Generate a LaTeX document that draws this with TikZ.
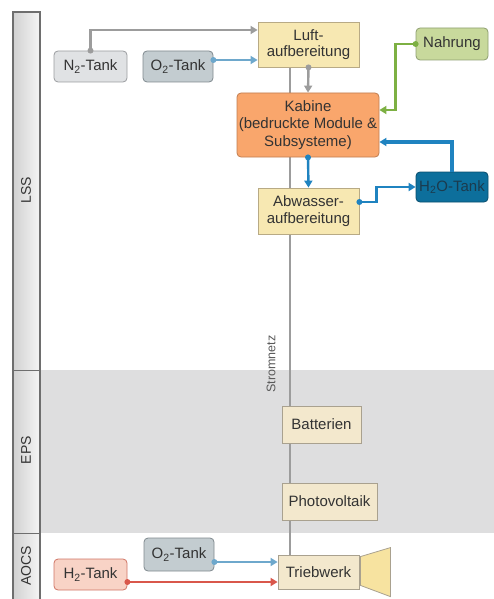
\documentclass[tikz,border=0pt]{standalone}
\usepackage{fontspec}
\setmainfont{Liberation Sans}
\usetikzlibrary{arrows.meta,backgrounds,calc}
\definecolor{txt}{HTML}{333333}
\definecolor{yelF}{HTML}{F7E8B2}
\definecolor{yelD}{HTML}{B8AA85}
\definecolor{kabF}{HTML}{F9A66C}
\definecolor{kabD}{HTML}{C07D50}
\definecolor{greF}{HTML}{C8D99C}
\definecolor{greD}{HTML}{8E9E70}
\definecolor{ntF}{HTML}{E0E2E4}
\definecolor{ntD}{HTML}{9A9C9F}
\definecolor{otF}{HTML}{C3CCD0}
\definecolor{otD}{HTML}{7F898E}
\definecolor{htF}{HTML}{F8D3C6}
\definecolor{htD}{HTML}{D07565}
\definecolor{beF}{HTML}{F3E8CD}
\definecolor{beD}{HTML}{A9A18F}
\definecolor{waF}{HTML}{0D6F9C}
\definecolor{waD}{HTML}{0A4D6C}
\definecolor{waT}{HTML}{1B3B4E}
\definecolor{band}{HTML}{DEDEDF}
\definecolor{laneD}{HTML}{6E6E6E}
\definecolor{cGray}{HTML}{9C9C9C}
\definecolor{cLBlue}{HTML}{6EA8CC}
\definecolor{cGreen}{HTML}{7DB043}
\definecolor{cBlue}{HTML}{1F83C0}
\definecolor{cRed}{HTML}{D9574B}
\definecolor{nozF}{HTML}{F7E3A0}
\tikzset{
  box/.style={draw, line width=0.8pt, align=center, text=txt, inner sep=0pt,
    font=\fontsize{15}{16.5}\selectfont},
  rbox/.style={box, rounded corners=4pt},
  conn/.style={line width=2.4pt, arrows={-Triangle[width=8pt,length=7pt]}},
  dotmark/.style={circle, fill, draw=none, inner sep=0pt, minimum size=6pt},
  lanelabel/.style={rotate=90, text=txt, font=\fontsize{14}{16}\selectfont},
}
\begin{document}
\begin{tikzpicture}[x=1pt,y=-1pt]
\useasboundingbox (0,0) rectangle (494,599);
% nodes
\node[rbox, fill=ntF, draw=ntD, minimum width=73pt, minimum height=31pt] (N2) at (90.5,66.5) {N\textsubscript{2}-Tank};
\node[rbox, fill=otF, draw=otD, minimum width=70pt, minimum height=31pt] (O2a) at (178,66.5) {O\textsubscript{2}-Tank};
\node[box, fill=yelF, draw=yelD, minimum width=101pt, minimum height=45pt] (Luft) at (308.5,44.5) {Luft-\\aufbereitung};
\node[rbox, fill=greF, draw=greD, minimum width=72pt, minimum height=32pt] (Nahrung) at (452,44) {Nahrung};
\node[rbox, fill=kabF, draw=kabD, minimum width=142pt, minimum height=64pt, font=\fontsize{15}{17.5}\selectfont] (Kabine) at (308,125) {Kabine\\(bedruckte Module \&\\Subsysteme)};
\node[rbox, fill=waF, draw=waD, text=waT, minimum width=72pt, minimum height=30pt] (H2O) at (452,187) {H\textsubscript{2}O-Tank};
\node[box, fill=yelF, draw=yelD, minimum width=101pt, minimum height=46pt] (Abw) at (308.5,211) {Abwasser-\\aufbereitung};
\node[box, fill=beF, draw=beD, minimum width=79pt, minimum height=37pt] (Batt) at (321.5,424.5) {Batterien};
\node[box, fill=beF, draw=beD, minimum width=95pt, minimum height=37pt] (Photo) at (329.5,501.5) {Photovoltaik};
\node[rbox, fill=otF, draw=otD, minimum width=70pt, minimum height=33pt] (O2b) at (179,554.5) {O\textsubscript{2}-Tank};
\node[rbox, fill=htF, draw=htD, minimum width=73pt, minimum height=31pt] (H2) at (90.5,574.5) {H\textsubscript{2}-Tank};
\node[box, fill=beF, draw=beD, minimum width=81pt, minimum height=34pt] (Trieb) at (318.5,572) {Triebwerk};
% nozzle
\draw[fill=nozF, draw=beD, line width=0.8pt]
  ($(Trieb.north east)+(1,2)$) -- ++(30,-9) -- ++(0,49) -- ($(Trieb.south east)+(1,-4)$) -- cycle;
% background: lanes, band, power line
\begin{scope}[on background layer]
  \fill[band] (40,370) rectangle (494,533);
  \draw[line width=1.3pt, draw=laneD, left color=black!18, right color=black!4]
    (13,12) rectangle (40,602);
  \draw[line width=0.9pt, draw=laneD] (13,370) -- (40,370);
  \draw[line width=0.9pt, draw=laneD] (13,533) -- (40,533);
  \coordinate (sx) at (290,0);
  \draw[cGray, line width=1.4pt] (Luft.south -| sx) -- (Trieb.north -| sx);
\end{scope}
\node[lanelabel] (LSS) at (26,190) {LSS};
\node[lanelabel] (EPS) at (26,450) {EPS};
\node[lanelabel] (AOCS) at (26,566) {AOCS};
\node[rotate=90, text=black!65, font=\fontsize{12.5}{14}\selectfont] (Strom) at (271,364) {Stromnetz};
% connectors
\draw[conn, cGray] (N2.north) node[dotmark]{} |- ([yshift=14.5pt]Luft.west);
\draw[conn, cLBlue] ([yshift=6.5pt]O2a.east) node[dotmark]{} -- ([yshift=6.5pt]O2a.east -| Luft.west);
\draw[conn, cGray] (Luft.south) node[dotmark]{} -- (Kabine.north);
\draw[conn, cGreen] (Nahrung.west) node[dotmark]{} -- ++(-20,0) |- ([yshift=15pt]Kabine.east);
\draw[conn, cBlue, line width=3.2pt] (H2O.north) |- ([yshift=-17pt]Kabine.east);
\draw[conn, cBlue] (Kabine.south) node[dotmark]{} -- (Abw.north);
\draw[conn, cBlue] ([yshift=9pt]Abw.east) node[dotmark]{} -- ++(17,0) |- (H2O.west);
\draw[conn, cLBlue] ([yshift=-7.5pt]O2b.east) node[dotmark]{} -- ([yshift=-7.5pt]O2b.east -| Trieb.west);
\draw[conn, cRed] ([yshift=-7.5pt]H2.east) node[dotmark]{} -- ([yshift=-7.5pt]H2.east -| Trieb.west);
\end{tikzpicture}
\end{document}
